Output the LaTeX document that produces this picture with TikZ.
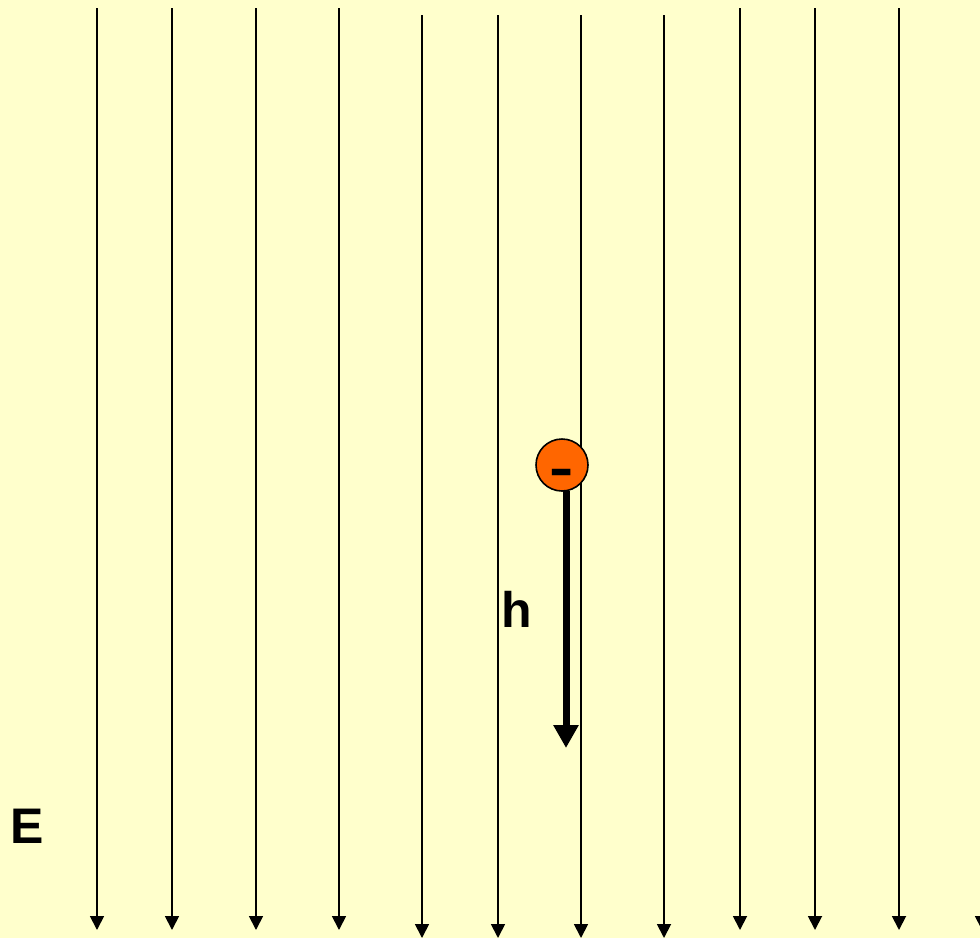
\documentclass[tikz,border=0pt]{standalone}
\usepackage{fontspec}
\setmainfont{Liberation Sans}
\usetikzlibrary{arrows.meta}
\definecolor{bgyellow}{HTML}{FFFFCC}
\definecolor{chargeorange}{HTML}{FF6600}
\tikzset{
  fieldline/.style={line width=1.8pt, -{Triangle[length=14pt,width=14pt]}},
  bigarrow/.style={line width=7pt, -{Triangle[length=23pt,width=24pt]}},
  charge/.style={circle, draw=black, line width=1.6pt, fill=chargeorange, minimum size=52pt, inner sep=0pt},
  lbl/.style={font=\fontsize{50}{50}\selectfont\bfseries, inner sep=0pt}
}
\begin{document}
\begin{tikzpicture}[x=1pt,y=-1pt]
\fill[bgyellow] (0,0) rectangle (980,938);
\useasboundingbox (0,0) rectangle (980,938);
\begin{scope}
\clip (0,0) rectangle (980,938);
\foreach \i/\x/\ya/\yb in {1/97/8/930,2/172/8/930,3/256/8/930,4/339/8/930,5/422/15/938,6/498/15/938,7/581/15/938,8/664/15/938,9/740/8/930,10/815/8/930,11/899/8/930,12/982/8/930}{
  \coordinate (t\i) at (\x,\ya);
  \coordinate (b\i) at (\x,\yb);
  \draw[fieldline] (t\i) -- (b\i);
}
\end{scope}
\node[charge] (q) at (562,465) {};
\node[font=\fontsize{54}{54}\selectfont\bfseries, inner sep=0pt, anchor=base, xscale=1.35] (minus) at (562,486) {-};
\coordinate (htip) at (566,748);
\draw[bigarrow] (566,491) -- (htip);
\node[lbl] (h) at (517,609) {h};
\node[lbl] (E) at (27,826) {E};
\end{tikzpicture}
\end{document}
